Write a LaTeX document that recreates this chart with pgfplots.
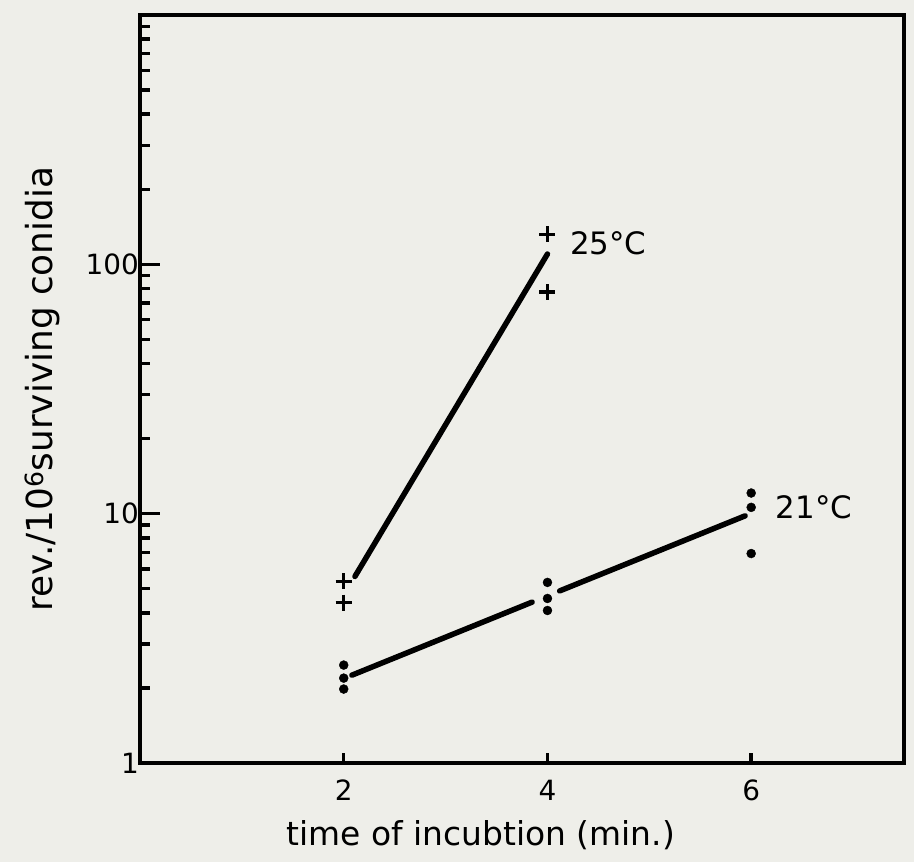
\documentclass[border=0pt]{standalone}
\usepackage{fontspec}
\setmainfont{DejaVu Sans}
\usepackage{pgfplots}
\pgfplotsset{compat=1.18}
\definecolor{paper}{RGB}{238,238,233}
\begin{document}
\begin{tikzpicture}
\fill[paper] (-140bp,-99bp) rectangle (774bp,763bp);
\begin{axis}[
  at={(0,0)}, anchor=south west,
  scale only axis, width=764bp, height=748bp,
  ymode=log, ymin=1, ymax=1000, xmin=0, xmax=7.5,
  axis line style={line width=3.5bp},
  tick align=inside,
  xtick={2,4,6}, xticklabels={2,4,6},
  ytick={1,10,100}, yticklabels={1,10,100},
  minor ytick={2,3,4,5,6,7,8,9,20,30,40,50,60,70,80,90,200,300,400,500,600,700,800,900},
  minor xtick={},
  xtick pos=bottom, ytick pos=left,
  major tick length=20bp, minor tick length=10bp,
  tick style={line width=3.5bp, black},
  xtick style={draw=none},
  /pgf/number format/assume math mode=true,
  ticklabel style={font=\fontsize{28}{32}\selectfont},
  yticklabel style={inner sep=1bp},
  xticklabel style={inner sep=2bp, yshift=-15bp},
  xlabel={time of incubtion (min.)},
  ylabel={rev./10\textsuperscript{6}surviving conidia},
  label style={font=\fontsize{33}{38}\selectfont},
  ylabel style={font=\fontsize{36}{40}\selectfont},
  xlabel style={at={(axis description cs:0.446,-0.096)}, anchor=center},
  ylabel style={at={(axis description cs:-0.128,0.5)}, anchor=center},
  clip=false,
]
% short x ticks (inward, 10bp)
\addplot[ycomb, black, line width=3.5bp, mark=none] coordinates {(2,1.096) (4,1.096) (6,1.096)};
% long y major ticks (inward, 20bp)
\addplot[xcomb, black, line width=3.5bp, mark=none] coordinates {(0.196,10) (0.196,100)};
% 25 C
\addplot[black, line width=5.5bp, line cap=round] coordinates {(2.11,5.6) (4.0,110)};
\addplot[only marks, mark=+, mark size=8bp, mark options={line width=3.5bp}, black]
  coordinates {(2,5.35) (2,4.40) (4,132) (4,77.3)};
% 21 C
\addplot[black, line width=5.5bp, line cap=round] coordinates {(2.08,2.25) (3.85,4.42)};
\addplot[black, line width=5.5bp, line cap=round] coordinates {(4.12,4.90) (5.94,9.8)};
\addplot[only marks, mark=*, mark size=4.5bp, black]
  coordinates {(2,2.47) (2,2.19) (2,1.98) (4,5.30) (4,4.57) (4,4.09) (6,12.1) (6,10.6) (6,6.92)};
\node[anchor=west, font=\fontsize{31}{36}\selectfont, inner sep=0pt] at (axis cs:4.22,122) {25°C};
\node[anchor=west, font=\fontsize{31}{36}\selectfont, inner sep=0pt] at (axis cs:6.24,10.6) {21°C};
\end{axis}
\pgfresetboundingbox
\path[use as bounding box] (-140bp,-99bp) rectangle (774bp,763bp);
\end{tikzpicture}
\end{document}
